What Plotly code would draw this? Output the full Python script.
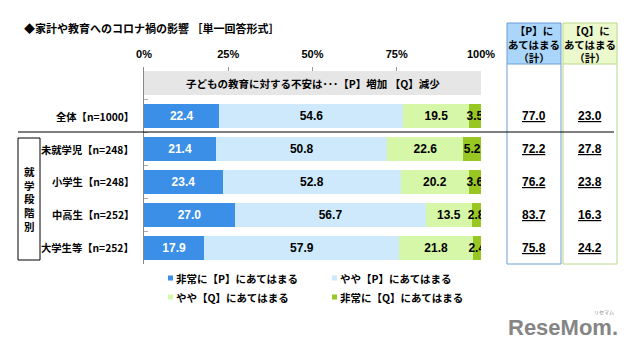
import plotly.graph_objects as go

W, H = 634, 348

header_text = "子どもの教育に対する不安は･･･【P】増加 【Q】減少"
categories = ["全体", "未就学児", "小学生", "中高生", "大学生等"]
row_labels = ["全体【n=1000】", "未就学児【n=248】", "小学生【n=248】", "中高生【n=252】", "大学生等【n=252】"]
series_names = ["非常に【P】にあてはまる", "やや【P】にあてはまる", "やや【Q】にあてはまる", "非常に【Q】にあてはまる"]
very_P = [22.4, 21.4, 23.4, 27.0, 17.9]
some_P = [54.6, 50.8, 52.8, 56.7, 57.9]
some_Q = [19.5, 22.6, 20.2, 13.5, 21.8]
very_Q = [3.5, 5.2, 3.6, 2.8, 2.4]
P_total = [77.0, 72.2, 76.2, 83.7, 75.8]
Q_total = [23.0, 27.8, 23.8, 16.3, 24.2]
x_ticks = [0, 25, 50, 75, 100]
x_ticktext = ["0%", "25%", "50%", "75%", "100%"]
title_text = "◆家計や教育へのコロナ禍の影響 ［単一回答形式］"
group_label = "就学段階別"
P_header = "【P】に<br>あてはまる<br>（計）"
Q_header = "【Q】に<br>あてはまる<br>（計）"

colors = ["#3b8fe6", "#cde9fb", "#d6f6a8", "#98c623"]
text_colors = ["white", "black", "black", "black"]

JP = "Noto Sans CJK JP"
NUM = "Liberation Sans, Arial"

def px(x):
    return x / W

def py(y):
    return 1 - y / H

fig = go.Figure()

# gray header band
fig.add_trace(go.Bar(y=[header_text], x=[100], orientation="h", marker_color="#e6e6e6",
                     marker_line_width=0, hoverinfo="skip", showlegend=False))

for name, vals, c, tc in zip(series_names, [very_P, some_P, some_Q, very_Q], colors, text_colors):
    fig.add_trace(go.Bar(
        y=categories, x=vals, orientation="h", name=name,
        marker_color=c, marker_line_width=0,
        text=vals, texttemplate="<b>%{x:.1f}</b>",
        textposition="inside", insidetextanchor="middle", textangle=0,
        constraintext="none",
        textfont=dict(color=tc, size=12, family=NUM),
        showlegend=False,
    ))

ann = []
# title
ann.append(dict(x=px(22), y=py(28), xref="paper", yref="paper", text="<b>" + title_text + "</b>",
                showarrow=False, xanchor="left", yanchor="middle", font=dict(size=11, family=JP, color="black")))
# header band text
ann.append(dict(x=50, y=header_text, xref="x", yref="y", text="<b>" + header_text + "</b>",
                showarrow=False, xanchor="center", yanchor="middle", font=dict(size=10.5, family=JP, color="black")))
# row labels
for cat, lab in zip(categories, row_labels):
    ann.append(dict(x=px(136), y=cat, xref="paper", yref="y", text="<b>" + lab + "</b>",
                    showarrow=False, xanchor="right", yanchor="middle", font=dict(size=10.3, family=JP, color="black")))
# totals
for cat, p, q in zip(categories, P_total, Q_total):
    ann.append(dict(x=px(534), y=cat, xref="paper", yref="y", text="<b><u>%.1f</u></b>" % p,
                    showarrow=False, xanchor="center", yanchor="middle", font=dict(size=12, family=NUM, color="black")))
    ann.append(dict(x=px(590), y=cat, xref="paper", yref="y", text="<b><u>%.1f</u></b>" % q,
                    showarrow=False, xanchor="center", yanchor="middle", font=dict(size=12, family=NUM, color="black")))
# box headers
ann.append(dict(x=px(534), y=py(44), xref="paper", yref="paper", text="<b>" + P_header + "</b>",
                showarrow=False, xanchor="center", yanchor="middle", font=dict(size=10.5, family=JP, color="black")))
ann.append(dict(x=px(590), y=py(44), xref="paper", yref="paper", text="<b>" + Q_header + "</b>",
                showarrow=False, xanchor="center", yanchor="middle", font=dict(size=10.5, family=JP, color="black")))
# vertical group label
ann.append(dict(x=px(29), y=py(199), xref="paper", yref="paper", text="<b>" + "<br>".join(group_label) + "</b>",
                showarrow=False, xanchor="center", yanchor="middle", font=dict(size=10.5, family=JP, color="black")))

shapes = []
# legend (manual 2x2)
leg_pos = [(168, 278), (332, 278), (168, 297), (332, 297)]
for (lx, ly), i in zip(leg_pos, range(4)):
    shapes.append(dict(type="rect", xref="paper", yref="paper", x0=px(lx), x1=px(lx + 5), y0=py(ly + 2.5), y1=py(ly - 2.5),
                       fillcolor=colors[i], line_width=0))
    ann.append(dict(x=px(lx + 6), y=py(ly), xref="paper", yref="paper", text="<b>" + series_names[i] + "</b>",
                    showarrow=False, xanchor="left", yanchor="middle", font=dict(size=10.5, family=JP, color="black")))

# logo
ann.append(dict(x=px(620), y=py(327), xref="paper", yref="paper", text="<b>ReseMom.</b>",
                showarrow=False, xanchor="right", yanchor="middle", font=dict(size=22, family=NUM, color="#858585")))
ann.append(dict(x=px(604), y=py(312), xref="paper", yref="paper", text="リセマム",
                showarrow=False, xanchor="center", yanchor="middle", font=dict(size=5, family=JP, color="#858585")))

# total boxes
shapes.append(dict(type="rect", xref="paper", yref="paper", x0=px(507), x1=px(561), y0=py(64), y1=py(23),
                   fillcolor="#a9d6fa", line_width=0, layer="below"))
shapes.append(dict(type="rect", xref="paper", yref="paper", x0=px(563), x1=px(617), y0=py(64), y1=py(23),
                   fillcolor="#ebf9cc", line_width=0, layer="below"))
shapes.append(dict(type="rect", xref="paper", yref="paper", x0=px(507), x1=px(561), y0=py(264), y1=py(23),
                   line=dict(color="#6d9fd2", width=1)))
shapes.append(dict(type="rect", xref="paper", yref="paper", x0=px(563), x1=px(617), y0=py(264), y1=py(23),
                   line=dict(color="#bcd88a", width=1)))
shapes.append(dict(type="line", xref="paper", yref="paper", x0=px(507), x1=px(561), y0=py(64), y1=py(64),
                   line=dict(color="#6d9fd2", width=1)))
shapes.append(dict(type="line", xref="paper", yref="paper", x0=px(563), x1=px(617), y0=py(64), y1=py(64),
                   line=dict(color="#bcd88a", width=1)))
# separator line under 全体
shapes.append(dict(type="line", xref="paper", yref="paper", x0=px(18), x1=px(614), y0=py(132), y1=py(132),
                   line=dict(color="black", width=1)))
# group bracket box
shapes.append(dict(type="rect", xref="paper", yref="paper", x0=px(18), x1=px(40), y0=py(260), y1=py(138),
                   line=dict(color="black", width=1)))

fig.update_layout(
    template="none",
    width=W, height=H,
    margin=dict(l=0, r=0, t=0, b=0, pad=0, autoexpand=False),
    paper_bgcolor="white", plot_bgcolor="white",
    barmode="stack", bargap=0.27,
    showlegend=False,
    annotations=ann, shapes=shapes,
    xaxis=dict(domain=[px(144), px(481)], range=[0, 100], side="top",
               tickvals=x_ticks, ticktext=["<b>" + t + "</b>" for t in x_ticktext],
               ticks="inside", ticklen=4, tickcolor="#999999",
               tickfont=dict(size=11, family=NUM, color="black"),
               showgrid=False, zeroline=False, showline=False, fixedrange=True,
               automargin=False, ticklabelstandoff=6),
    yaxis=dict(domain=[py(264), py(67)], categoryorder="array",
               categoryarray=[header_text] + categories, autorange="reversed",
               showticklabels=False, ticks="inside", tickson="boundaries", ticklen=4, tickcolor="#aaaaaa",
               showline=True, linecolor="#888888", linewidth=1,
               showgrid=False, zeroline=False, fixedrange=True, automargin=False),
)

fig.write_html("out.html")
